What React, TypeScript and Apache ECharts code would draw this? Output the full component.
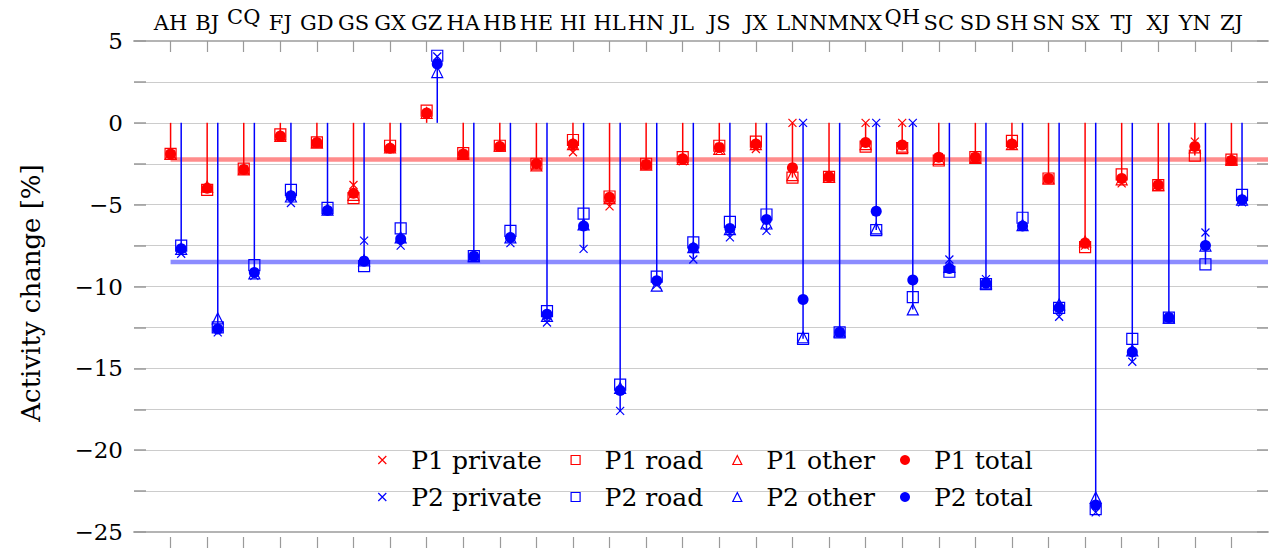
import React, { useEffect, useRef } from "react";
import * as echarts from "echarts";

const cats = ["AH","BJ","CQ","FJ","GD","GS","GX","GZ","HA","HB","HE","HI","HL","HN","JL","JS","JX","LN","NM","NX","QH","SC","SD","SH","SN","SX","TJ","XJ","YN","ZJ"];

const p1Private = [-1.9,-4.0,-2.85,-0.9,-1.25,-3.8,-1.6,0.5,-1.9,-1.5,-2.6,-1.8,-5.1,-2.55,-2.35,-1.7,-1.6,0,-3.3,0,0,-2.1,-2.1,-1.3,-3.4,-7.5,-3.7,-3.8,-1.15,-2.3];
const p1Road = [-1.9,-4.1,-2.8,-0.7,-1.2,-4.6,-1.4,0.75,-1.85,-1.4,-2.5,-1.05,-4.5,-2.5,-2.1,-1.4,-1.15,-3.35,-3.3,-1.45,-1.55,-2.3,-2.1,-1.1,-3.4,-7.6,-3.15,-3.8,-2.0,-2.25];
const p1Other = [-1.9,-3.9,-2.85,-0.8,-1.2,-4.4,-1.5,0.6,-1.9,-1.4,-2.6,-1.3,-4.6,-2.55,-2.2,-1.6,-1.3,-3.2,-3.3,-1.3,-1.45,-2.2,-2.15,-1.3,-3.4,-7.25,-3.45,-3.8,-1.5,-2.25];
const p1Total = [-1.9,-4.0,-2.85,-0.8,-1.2,-4.3,-1.55,0.6,-1.9,-1.45,-2.5,-1.3,-4.55,-2.55,-2.2,-1.5,-1.3,-2.75,-3.3,-1.2,-1.35,-2.1,-2.1,-1.3,-3.4,-7.35,-3.4,-3.8,-1.45,-2.3];

const p2Private = [-8.0,-12.8,-9.35,-4.9,-5.4,-7.2,-7.5,4.05,-8.15,-7.35,-12.2,-7.7,-17.6,-9.9,-8.35,-7.0,-6.6,0,-12.8,0,0,-8.35,-9.55,-6.35,-11.85,-23.8,-14.6,-11.9,-6.7,-4.85];
const p2Road = [-7.5,-12.5,-8.7,-4.1,-5.2,-8.75,-6.45,4.1,-8.15,-6.6,-11.5,-5.55,-16.0,-9.4,-7.3,-6.05,-5.6,-13.2,-12.8,-6.55,-10.65,-9.1,-9.85,-5.8,-11.3,-23.6,-13.2,-11.9,-8.65,-4.4];
const p2Other = [-7.7,-11.95,-9.2,-4.5,-5.3,-8.4,-7.0,3.1,-8.15,-7.0,-11.8,-6.2,-16.2,-9.95,-7.6,-6.5,-6.15,-13.1,-12.75,-6.45,-11.4,-8.8,-9.8,-6.25,-11.1,-22.9,-13.9,-11.9,-7.5,-4.7];
const p2Total = [-7.7,-12.6,-9.15,-4.45,-5.35,-8.45,-7.1,3.6,-8.15,-7.0,-11.7,-6.3,-16.35,-9.65,-7.65,-6.45,-5.9,-10.8,-12.8,-5.4,-9.6,-8.9,-9.8,-6.3,-11.3,-23.35,-14.0,-11.9,-7.5,-4.7];

const p1Mean = -2.24;
const p2Mean = -8.51;

const yMin = -25;
const yMax = 5;
const yStep = 2.5;

const FONT = "DejaVu Serif";
const RED = "#ff0000";
const BLUE = "#0000ff";
const P2_OFFSET = 0.29;
const CROSS = "path://M0,0L1,1M1,0L0,1";

function pts(vals: number[], off: number) {
  return vals.map((v, i) => [i + off, v]);
}
function stemData(lists: number[][], off: number) {
  return cats.map((_, i) => {
    let ext = 0;
    for (const l of lists) if (Math.abs(l[i]) > Math.abs(ext)) ext = l[i];
    return [i + off, ext];
  });
}

function stemSeries(name: string, data: number[][], color: string, z: number) {
  return {
    type: "custom",
    name,
    xAxisIndex: 0,
    yAxisIndex: 0,
    z,
    silent: true,
    encode: { x: 0, y: 1 },
    data,
    renderItem: (_p: any, api: any) => {
      const x = api.value(0);
      const y = api.value(1);
      const a = api.coord([x, 0]);
      const b = api.coord([x, y]);
      return {
        type: "line",
        shape: { x1: a[0], y1: a[1], x2: b[0], y2: b[1] },
        style: { stroke: color, lineWidth: 1.5 },
      };
    },
  };
}

function symbolFor(kind: string) {
  if (kind === "private") return CROSS;
  if (kind === "road") return "rect";
  if (kind === "other") return "triangle";
  return "circle";
}

function markerSeries(name: string, vals: number[], off: number, color: string, kind: string, z: number) {
  return {
    type: "scatter",
    name,
    xAxisIndex: 0,
    yAxisIndex: 0,
    z,
    data: pts(vals, off),
    silent: true,
    symbol: symbolFor(kind),
    symbolSize: kind === "private" ? 8 : 11,
    itemStyle:
      kind === "total"
        ? { color, opacity: 1 }
        : { color: "transparent", borderColor: color, borderWidth: 1.2, opacity: 1 },
  };
}

function meanSeries(name: string, v: number, color: string, z: number) {
  return {
    type: "line",
    name,
    xAxisIndex: 0,
    yAxisIndex: 0,
    z,
    silent: true,
    symbol: "none",
    data: [[0, v], [30, v]],
    lineStyle: { color, width: 4.5, opacity: 0.45 },
  };
}

const legendCols = [381.7, 575, 736.7, 905];
const legendRows = [460, 497];
const kinds = ["private", "road", "other", "total"];

function legendItem(name: string, kind: string, color: string, col: number, row: number) {
  const size = kind === "private" ? 8 : kind === "total" ? 10 : 9;
  const itemStyle =
    kind === "total"
      ? { color, borderWidth: 0, opacity: 1 }
      : { color: "transparent", borderColor: color, borderWidth: 1.2, opacity: 1 };
  return {
    show: true,
    data: [{ name, icon: symbolFor(kind) }],
    orient: "horizontal",
    left: legendCols[col] - size / 2,
    top: legendRows[row] - 14,
    padding: 0,
    itemWidth: size,
    itemHeight: size,
    itemStyle,
    selectedMode: false,
    textStyle: {
      fontFamily: FONT,
      fontSize: 25,
      color: "#000",
      lineHeight: 28,
      padding: [0, 0, 0, 29 - size / 2 - 5],
    },
  };
}

export default function App() {
  const ref = useRef<HTMLDivElement>(null);
  useEffect(() => {
    if (!ref.current) return;
    const chart = echarts.init(ref.current, null, { renderer: "svg" });
    const idx = cats.map((_, i) => i);
    const legends: any[] = [];
    kinds.forEach((k, c) => {
      legends.push(legendItem("P1 " + k, k, RED, c, 0));
      legends.push(legendItem("P2 " + k, k, BLUE, c, 1));
    });
    const tickStyle = { color: "#9a9a9a", width: 1.2 };
    const option: any = {
      animation: false,
      backgroundColor: "#ffffff",
      textStyle: { fontFamily: FONT },
      grid: { left: 134, top: 41, width: 1134, height: 491, containLabel: false },
      xAxis: [
        {
          type: "value",
          position: "top",
          min: -1,
          max: 30,
          interval: 1,
          splitLine: { show: false },
          axisLine: { show: true, onZero: false, lineStyle: { color: "#b4b4b4", width: 2 } },
          axisTick: { show: true, inside: true, length: 11, customValues: idx, lineStyle: tickStyle },
          axisLabel: {
            show: true,
            customValues: idx,
            margin: 8,
            fontFamily: FONT,
            fontSize: 21,
            color: "#000",
            formatter: (v: number) => {
              const n = cats[Math.round(v)] ?? "";
              return n === "CQ" || n === "QH" ? `{q|${n}}` : n;
            },
            rich: { q: { fontFamily: FONT, fontSize: 21, color: "#000", padding: [0, 0, 6, 0] } },
          },
        },
        {
          type: "value",
          position: "bottom",
          min: -1,
          max: 30,
          interval: 1,
          splitLine: { show: false },
          axisLine: { show: true, onZero: false, lineStyle: { color: "#b4b4b4", width: 2 } },
          axisTick: { show: false },
          axisLabel: { show: false },
        },
        {
          type: "value",
          position: "bottom",
          offset: 5,
          min: -1,
          max: 30,
          interval: 1,
          splitLine: { show: false },
          axisLine: { show: false, onZero: false },
          axisTick: { show: true, inside: false, length: 11, customValues: idx, lineStyle: tickStyle },
          axisLabel: { show: false },
        },
      ],
      yAxis: [
        {
          type: "value",
          position: "left",
          min: yMin,
          max: yMax,
          interval: yStep,
          name: "Activity change [%]",
          nameLocation: "middle",
          nameGap: 90,
          nameTextStyle: { fontFamily: FONT, fontSize: 26, color: "#000", padding: [0, 13, 0, 0] },
          axisLine: { show: false, onZero: false },
          axisTick: { show: true, inside: true, length: 12, lineStyle: { color: "#9a9a9a", width: 1.5 } },
          splitLine: { show: true, lineStyle: { color: "#cccccc", width: 1.2 } },
          axisLabel: {
            margin: 11,
            fontFamily: FONT,
            fontSize: 23,
            color: "#000",
            formatter: (v: number) => {
              if (Math.abs(v % 5) > 1e-6) return "";
              return v < 0 ? "\u2212" + Math.abs(v) : String(v);
            },
          },
        },
        {
          type: "value",
          position: "right",
          min: yMin,
          max: yMax,
          interval: yStep,
          axisLine: { show: false, onZero: false },
          axisTick: { show: true, inside: true, length: 11, lineStyle: { color: "#9a9a9a", width: 1.5 } },
          splitLine: { show: false },
          axisLabel: { show: false },
        },
      ],
      legend: legends,
      series: [
        stemSeries("P1 stems", stemData([p1Private, p1Road, p1Other, p1Total], 0), RED, 2),
        meanSeries("P1 mean", p1Mean, RED, 3),
        stemSeries("P2 stems", stemData([p2Private, p2Road, p2Other, p2Total], P2_OFFSET), BLUE, 4),
        meanSeries("P2 mean", p2Mean, BLUE, 5),
        markerSeries("P1 private", p1Private, 0, RED, "private", 6),
        markerSeries("P1 road", p1Road, 0, RED, "road", 6),
        markerSeries("P1 other", p1Other, 0, RED, "other", 6),
        markerSeries("P1 total", p1Total, 0, RED, "total", 6),
        markerSeries("P2 private", p2Private, P2_OFFSET, BLUE, "private", 7),
        markerSeries("P2 road", p2Road, P2_OFFSET, BLUE, "road", 7),
        markerSeries("P2 other", p2Other, P2_OFFSET, BLUE, "other", 7),
        markerSeries("P2 total", p2Total, P2_OFFSET, BLUE, "total", 7),
      ],
    };
    chart.setOption(option);
    return () => chart.dispose();
  }, []);
  return <div ref={ref} style={{ position: "fixed", left: 0, top: 0, width: 1275, height: 551 }} />;
}
